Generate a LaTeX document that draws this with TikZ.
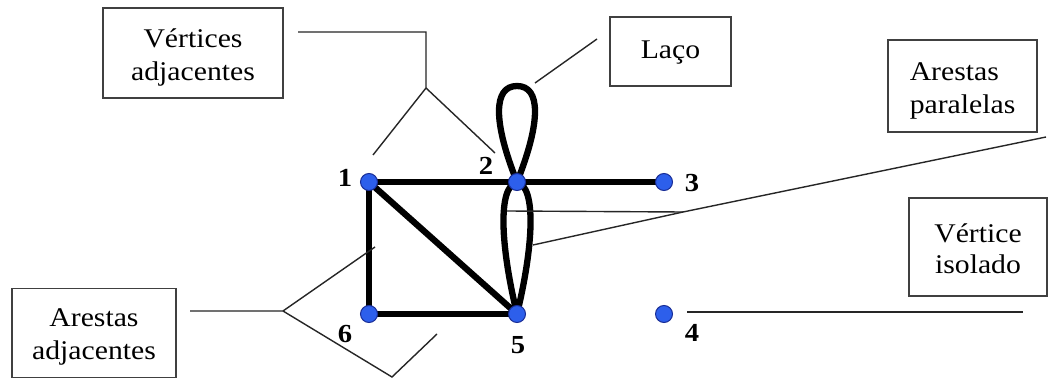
\documentclass[tikz,border=0pt]{standalone}
\usepackage{fontspec}
\setmainfont{Liberation Serif}[FakeStretch=1.1]
\begin{document}
\begin{tikzpicture}[x=1pt,y=-1pt,
  boxtext/.style={font=\fontsize{27}{33}\selectfont, inner sep=0pt},
  vert/.style={circle, fill={rgb,255:red,45;green,95;blue,235},
    draw={rgb,255:red,25;green,45;blue,150}, line width=1pt,
    minimum size=17pt, inner sep=0pt},
  graphedge/.style={line width=6.3pt, line cap=round},
  lead/.style={line width=1.4pt, draw=black!85},
  tag/.style={font=\fontsize{26}{26}\selectfont\bfseries, inner sep=0pt},
  callout/.style={draw=black!75, line width=1.6pt, inner sep=0pt}
]
% canvas
\fill[white] (0,0) rectangle (1048,379);
\useasboundingbox (0,0) rectangle (1048,379);

% vertex positions
\coordinate (p1) at (369,182);
\coordinate (p2) at (517,182);
\coordinate (p3) at (664,182);
\coordinate (p4) at (664,314);
\coordinate (p5) at (517,314);
\coordinate (p6) at (369,314);

% edges
\draw[graphedge] (p1) -- (p2) -- (p3);
\draw[graphedge] (p1) -- (p6) -- (p5);
\draw[graphedge] (p1) -- (p5);
% loop at vertex 2
\draw[graphedge] (p2) .. controls (493,122) and (493,86) .. (517,86)
                      .. controls (541,86) and (541,122) .. (p2);
% parallel edges between 2 and 5
\draw[graphedge] (p2) .. controls (497,187) and (501,248) .. (p5);
\draw[graphedge] (p2) .. controls (537,187) and (533,248) .. (p5);

% vertices
\node[vert] (v1) at (p1) {};
\node[vert] (v2) at (p2) {};
\node[vert] (v3) at (p3) {};
\node[vert] (v4) at (p4) {};
\node[vert] (v5) at (p5) {};
\node[vert] (v6) at (p6) {};

% vertex labels
\node[tag] (l1) at (345,178) {1};
\node[tag] (l2) at (486,166) {2};
\node[tag] (l3) at (692,183) {3};
\node[tag] (l4) at (692,333) {4};
\node[tag] (l5) at (518,345) {5};
\node[tag] (l6) at (345,334) {6};

% callout frames
\node[callout, minimum width=180pt, minimum height=90pt] (bva) at (193,53) {};
\node[callout, minimum width=121pt, minimum height=69pt] (blc) at (670.5,51.5) {};
\node[callout, minimum width=149pt, minimum height=92pt] (bap) at (962.5,86) {};
\node[callout, minimum width=138pt, minimum height=98pt] (bvi) at (978,247) {};
\node[callout, minimum width=164pt, minimum height=89pt] (baa) at (94,333) {};

% callout texts
\node[boxtext, align=center] (tva) at ([yshift=-4pt]bva.center) {Vértices\\adjacentes};
\node[boxtext] (tlc) at ([yshift=-1pt]blc.center) {Laço};
\node[boxtext, align=left] (tap) at ([yshift=-5pt]bap.center) {Arestas\\paralelas};
\node[boxtext, align=center, font=\fontsize{27}{31}\selectfont] (tvi) at ([yshift=-2pt]bvi.center) {Vértice\\isolado};
\node[boxtext, align=center] (taa) at ([yshift=-4pt]baa.center) {Arestas\\adjacentes};

% leader lines: adjacent vertices
\coordinate (va0) at (298,32);
\coordinate (va1) at (426,32);
\coordinate (va2) at (426,88);
\coordinate (va3) at (373,155);
\coordinate (va4) at (495,153);
\draw[lead] (va0) -- (va1) -- (va2) -- (va3);
\draw[lead] (va2) -- (va4);

% leader line: loop
\coordinate (lc0) at (597,39);
\coordinate (lc1) at (535,83);
\draw[lead] (lc0) -- (lc1);

% leader lines: parallel edges
\coordinate (ap0) at (1046,137);
\coordinate (apj) at (683,212);
\coordinate (ap1) at (533,245);
\coordinate (ap2) at (507,211);
\draw[lead] (ap0) -- (apj) -- (ap1);
\draw[lead] (apj) -- (ap2);

% leader line: isolated vertex
\coordinate (vi0) at (687,312);
\coordinate (vi1) at (1023,312);
\draw[lead] (vi0) -- (vi1);

% leader lines: adjacent edges
\coordinate (aa0) at (190,311);
\coordinate (aaj) at (283,311);
\coordinate (aa1) at (375,247);
\coordinate (aa2) at (392,377);
\coordinate (aa3) at (437,334);
\draw[lead] (aa0) -- (aaj) -- (aa1);
\draw[lead] (aaj) -- (aa2) -- (aa3);
\end{tikzpicture}
\end{document}
